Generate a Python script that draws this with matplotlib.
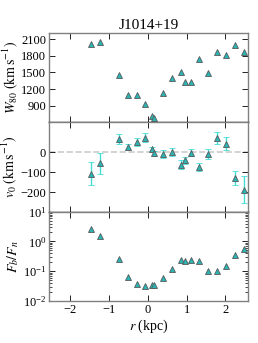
"""
Outflow profile of J1014+19: W80, v0 and flux ratio along r
"""
import matplotlib
matplotlib.use("Agg")
import matplotlib.pyplot as plt
import numpy as np

plt.rcParams['font.family'] = 'serif'
plt.rcParams['font.serif'] = ['Liberation Serif', 'DejaVu Serif']
plt.rcParams['mathtext.fontset'] = 'stix'

r = [-1.46, -1.23, -0.75, -0.52, -0.29, -0.07, 0.11, 0.16, 0.39, 0.62,
     0.85, 0.95, 1.10, 1.33, 1.56, 1.79, 2.01, 2.25, 2.48]
w80 = [2010, 2057, 1459, 1090, 1090, 938, 722, 686, 1130, 1392,
       1513, 1333, 1333, 1741, 1489, 1877, 1813, 2003, 1877]
v0 = [-108, -57, 63, 25, 50, 72, 13, -7, -10, 0,
      -63, -42, -3, -75, -10, 70, 42, -130, -187]
v0_err = [58, 52, 25, 17, 20, 23, 10, 12, 22, 20,
          22, 17, 17, 22, 24, 32, 32, 36, 66]
flux_ratio = [2.6, 1.55, 0.255, 0.065, 0.036, 0.032, 0.035, 0.034, 0.061, 0.12,
              0.23, 0.22, 0.23, 0.22, 0.098, 0.105, 0.15, 0.36, 0.54]

face = '#2ab4b4'
edge = '0.35'
errc = '#45dcd6'

fig, axes = plt.subplots(3, 1, sharex=True, figsize=(2.58, 3.43), dpi=100)
fig.subplots_adjust(left=0.19, right=0.961, top=0.904, bottom=0.1224, hspace=0)
ax1, ax2, ax3 = axes

ax1.plot(r, w80, '^', ms=5, mfc=face, mec=edge, mew=0.6)
ax1.set_ylim(600, 2215)
ax1.set_yticks([900, 1200, 1500, 1800, 2100])
ax1.set_ylabel(r"$W_{80}\ (\mathrm{km\,s^{-1}})$", fontsize=10, labelpad=1)
ax1.set_title("J1014+19", fontsize=11, pad=3)

ax2.axhline(0, color='0.8', ls='--', lw=1.2, zorder=0)
ax2.errorbar(r, v0, yerr=v0_err, fmt='^', ms=5, mfc=face, mec=edge, mew=0.6,
             ecolor=errc, elinewidth=1, capsize=2, capthick=1)
ax2.set_ylim(-297, 148)
ax2.set_yticks([-200, -100, 0])
ax2.set_ylabel(r"$v_0\ (\mathrm{km\,s^{-1}})$", fontsize=10, labelpad=1)

ax3.plot(r, flux_ratio, '^', ms=5, mfc=face, mec=edge, mew=0.6)
ax3.set_yscale('log')
ax3.set_ylim(0.01, 10)
ax3.set_ylabel(r"$F_b/F_n$", fontsize=10, labelpad=1)
ax3.set_xlabel(r"$r$ (kpc)", fontsize=10, labelpad=1)
ax3.set_xlim(-2.55, 2.58)
ax3.set_xticks([-2, -1, 0, 1, 2])

for ax in axes:
    ax.tick_params(which='both', direction='in', top=True, right=True,
                   labelsize=9, pad=2)
    ax.tick_params(which='major', length=4, width=0.6)
    ax.tick_params(which='minor', length=2, width=0.5)
    for s in ax.spines.values():
        s.set_color('0.5')
        s.set_linewidth(1.0)
ax1.spines['bottom'].set_color('k')
ax2.spines['bottom'].set_color('k')

fig.savefig("out.png", dpi=100)
